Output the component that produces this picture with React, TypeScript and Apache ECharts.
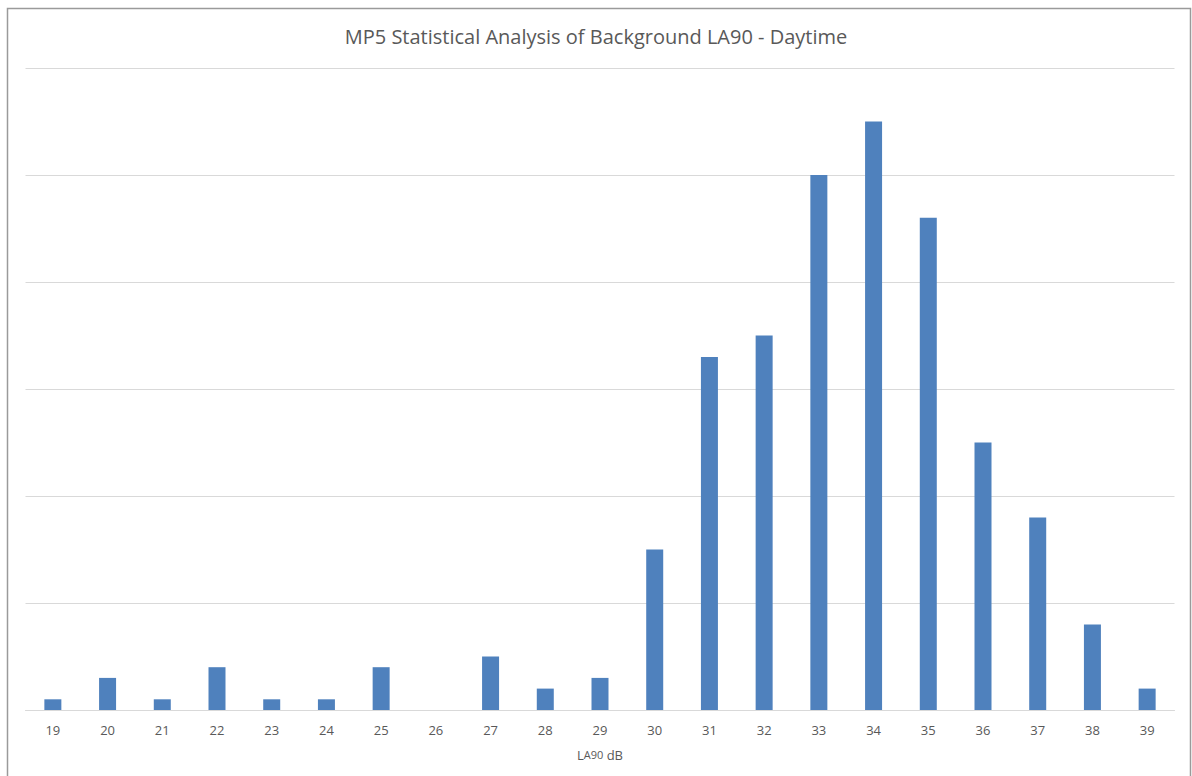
import React, { useEffect, useRef } from "react";
import * as echarts from "echarts";

const categories = ["19","20","21","22","23","24","25","26","27","28","29","30","31","32","33","34","35","36","37","38","39"];
const counts = [1, 3, 1, 4, 1, 1, 4, 0, 5, 2, 3, 15, 33, 35, 50, 55, 46, 25, 18, 8, 2];
const yTicks = { min: 0, max: 60, interval: 10 };

export default function App() {
  const ref = useRef<HTMLDivElement>(null);
  useEffect(() => {
    document.body.style.margin = "0";
    const chart = echarts.init(ref.current!, null, { renderer: "svg" });
    chart.setOption({
      animation: false,
      backgroundColor: "#ffffff",
      title: {
        text: "MP5 Statistical Analysis of Background LA90 - Daytime",
        left: "center",
        top: 21,
        textStyle: { fontFamily: "Open Sans", fontSize: 20, fontWeight: "normal", color: "#595959" },
      },
      graphic: [
        {
          type: "rect",
          shape: { x: 7.5, y: 8.5, width: 1183, height: 800 },
          style: { fill: "none", stroke: "#9a9a9a", lineWidth: 1.5 },
          silent: true,
        },
      ],
      grid: { left: 25.5, right: 17.5, top: 68, bottom: 66 },
      xAxis: {
        type: "category",
        data: categories,
        axisLine: { show: true, lineStyle: { color: "#d9d9d9", width: 1 } },
        axisTick: { show: false },
        axisLabel: { color: "#595959", fontFamily: "Open Sans", fontSize: 13, margin: 13 },
        name: "{l|L}{s|A90} {l|dB}",
        nameLocation: "middle",
        nameGap: 38,
        nameTextStyle: {
          rich: {
            l: { fontFamily: "Open Sans", fontSize: 13, color: "#595959" },
            s: { fontFamily: "Open Sans", fontSize: 11, color: "#595959" },
          },
        },
      },
      yAxis: {
        type: "value",
        min: yTicks.min,
        max: yTicks.max,
        interval: yTicks.interval,
        axisLabel: { show: false },
        axisLine: { show: false },
        axisTick: { show: false },
        splitLine: { lineStyle: { color: "#d9d9d9", width: 1 } },
      },
      series: [
        {
          type: "bar",
          data: counts,
          barWidth: 17,
          itemStyle: { color: "#4f81bd" },
        },
      ],
    });
    return () => chart.dispose();
  }, []);
  return <div ref={ref} style={{ width: 1192, height: 776 }} />;
}
